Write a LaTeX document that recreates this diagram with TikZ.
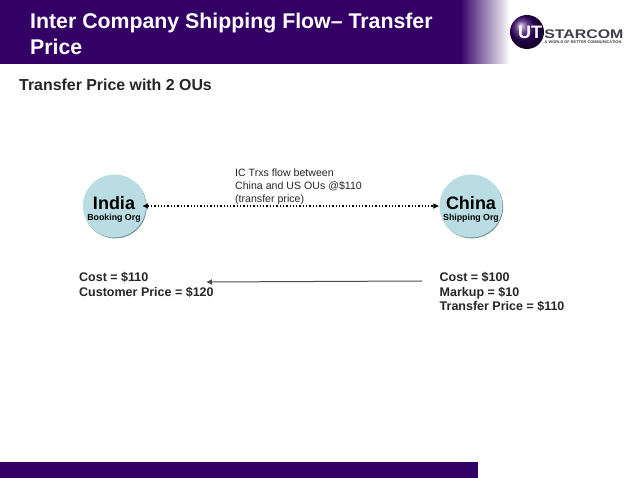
\documentclass[tikz,border=0pt]{standalone}
\usepackage{fontspec}
\setmainfont{Liberation Sans}
\usetikzlibrary{arrows.meta,shadows}
\definecolor{band}{HTML}{330066}
\definecolor{disc}{HTML}{B9DDE2}
\definecolor{discedge}{HTML}{6F8F98}
\definecolor{logogrey}{HTML}{3F3F4A}
\tikzset{
  x=1pt,y=-1pt,
  title/.style={anchor=base west,inner sep=0pt,text=white,font=\fontsize{21.3}{21.3}\selectfont\bfseries},
  org/.style={circle,fill=disc,minimum size=63pt,inner sep=0pt,
    general shadow={shadow xshift=.7pt,shadow yshift=-.9pt,fill=discedge}},
  big/.style={anchor=base,inner sep=0pt,font=\fontsize{18}{18}\selectfont\bfseries},
  small/.style={anchor=base,inner sep=0pt,font=\fontsize{8.8}{8.8}\selectfont\bfseries},
  info/.style={anchor=north west,inner sep=0pt,align=left,font=\fontsize{12.5}{14.8}\selectfont\bfseries,text=black!85},
  note/.style={anchor=north west,inner sep=0pt,align=left,font=\fontsize{10.6}{13.3}\selectfont,text=black!85},
}
\begin{document}
\begin{tikzpicture}
\useasboundingbox (0,0) rectangle (638,478);
\fill[white] (0,0) rectangle (638,478);
\fill[band] (0,0) rectangle (462,64);
\shade[left color=band,right color=white,shading angle=90,draw=none] (460,0) rectangle (510,64);
\fill[band] (0,462) rectangle (478,478);
\node[title] (t1) at (30,29) {Inter Company Shipping Flow– Transfer};
\node[title] (t2) at (30,55) {Price};
\node[anchor=base west,inner sep=0pt,font=\fontsize{15.9}{15.9}\selectfont\bfseries,text=black!85] (sub) at (19,91) {Transfer Price with 2 OUs};
% logo
\shade[ball color=band] (527,32) circle (17);
\node[inner sep=0pt,text=white,font=\fontsize{18}{18}\selectfont\bfseries] (ut) at (530,32) {UT};
\node[anchor=base west,inner sep=0pt,text=logogrey,xscale=1.27,font=\fontsize{12.5}{12.5}\selectfont\bfseries] (star) at (544,38.5) {STARCOM};
\node[anchor=base west,inner sep=0pt,text=logogrey,font=\fontsize{3.9}{3.9}\selectfont\bfseries] (tag) at (544.5,43.5) {A WORLD OF BETTER COMMUNICATION};
% circles
\node[org] (india) at (114.5,206) {};
\node[org] (china) at (471,206) {};
\node[big] (indt) at (114,209.5) {India};
\node[small] (indo) at (114,220.5) {Booking Org};
\node[big] (chit) at (471,209.5) {China};
\node[small] (chio) at (471,220.5) {Shipping Org};
\draw[dotted,line width=1.3pt,shorten <=-4pt,{Latex[length=6pt,width=6pt]}-{Latex[length=6pt,width=6pt]}] (india) -- (china);
\node[note] (ic) at (235,168.2) {IC Trxs flow between\\China and US OUs @\$110\\(transfer price)};
\node[info] (left) at (79,271.8) {Cost = \$110\\Customer Price = \$120};
\node[info] (right) at (439.5,271.8) {Cost = \$100\\Markup = \$10\\Transfer Price = \$110};
\coordinate (s) at (422,281);
\coordinate (e) at (206,282);
\draw[line width=1pt,draw=black!70,-{Latex[length=6pt,width=6pt]}] (s) -- (e);
\end{tikzpicture}
\end{document}
